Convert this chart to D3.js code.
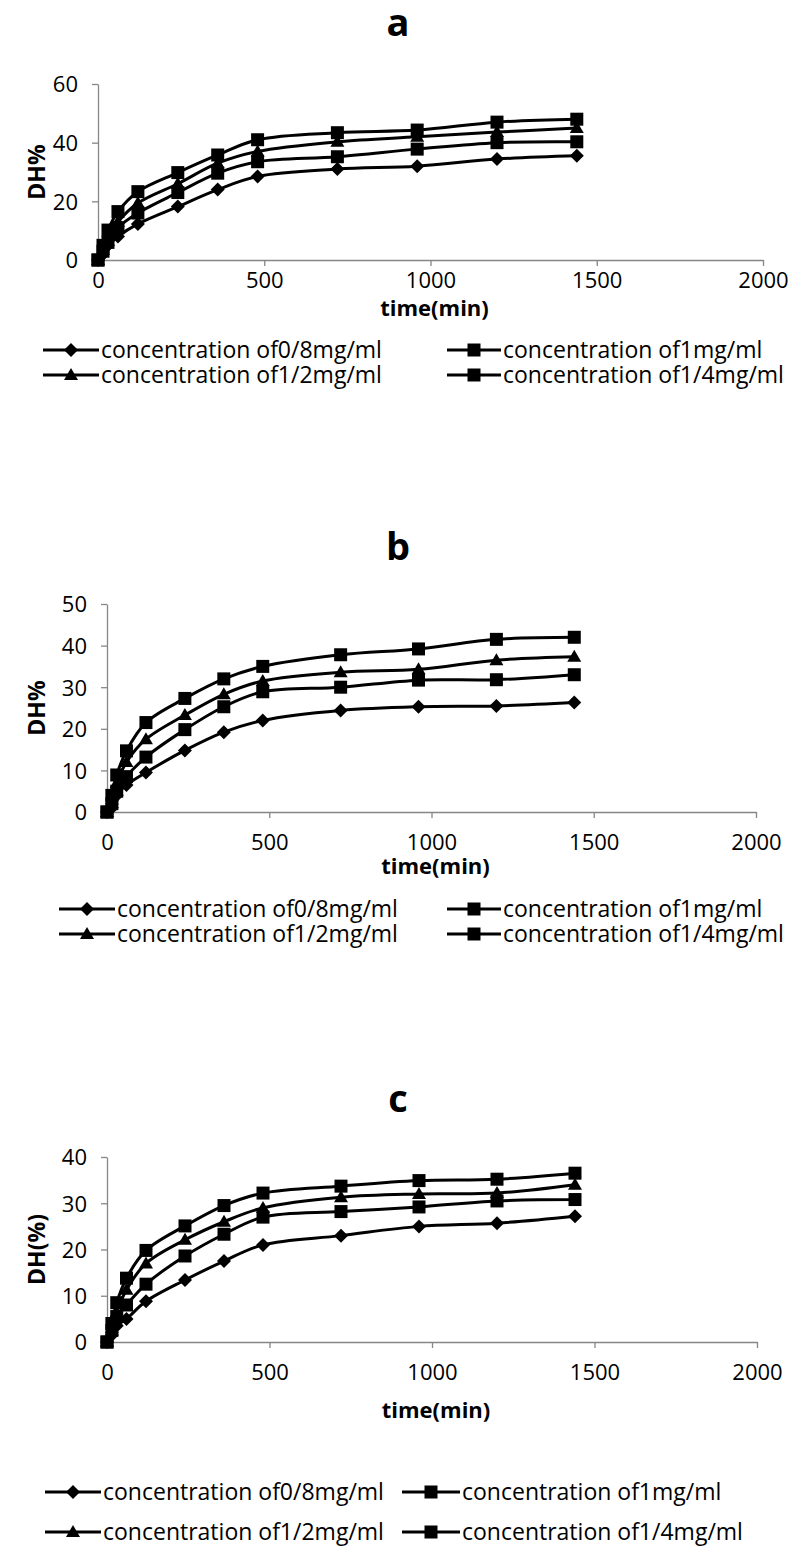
<!DOCTYPE html>
<html>
<head>
<meta charset="utf-8">
<script src="https://cdn.jsdelivr.net/npm/d3@7"></script>
<style>
  body { margin: 0; background: #fff; }
  text { font-family: "Open Sans", sans-serif; fill: #000; }
</style>
</head>
<body>
<div id="chart"></div>
<script>
// sampling times (min), same for all panels
const times = [0, 15, 30, 60, 120, 240, 360, 480, 720, 960, 1200, 1440];

const seriesNames = [
  "concentration of0/8mg/ml",
  "concentration of1mg/ml",
  "concentration of1/2mg/ml",
  "concentration of1/4mg/ml"
];
const seriesSymbols = ["diamond", "square", "triangle", "square"];

// panel a
const a08 = [0, 2, 5, 8, 12.3, 18.2, 24, 28.5, 31, 32, 34.4, 35.5];
const a1  = [0, 5, 10.2, 16.5, 23.3, 29.8, 35.8, 41, 43.4, 44.3, 47, 48];
const a12 = [0, 4, 8, 13, 19.4, 26, 33, 37, 40.3, 42, 43.6, 45];
const a14 = [0, 3, 6, 11, 16, 23, 29.6, 33.5, 35.2, 37.8, 40, 40.3];

// panel b
const b08 = [0, 1, 4, 6.5, 9.5, 14.8, 19.2, 22, 24.4, 25.3, 25.5, 26.3];
const b1  = [0, 4, 8.9, 14.7, 21.5, 27.3, 32, 35, 37.8, 39.2, 41.5, 42];
const b12 = [0, 3, 7, 12, 17.5, 23.3, 28.3, 31.5, 33.6, 34.3, 36.5, 37.3];
const b14 = [0, 2, 5, 8.5, 13.2, 19.8, 25.3, 28.9, 30, 31.7, 31.8, 33];

// panel c
const c08 = [0, 1.5, 3.5, 5, 8.8, 13.4, 17.5, 21, 23, 25, 25.7, 27.2];
const c1  = [0, 4, 8.5, 13.8, 19.8, 25.1, 29.5, 32.2, 33.7, 34.9, 35.2, 36.5];
const c12 = [0, 3, 6.5, 11.3, 17, 22.1, 26, 29, 31.3, 32, 32.2, 34];
const c14 = [0, 2.5, 5.5, 8, 12.5, 18.6, 23.3, 27, 28.2, 29.2, 30.5, 30.8];

const xTicks = [0, 500, 1000, 1500, 2000];

const width = 797;
const height = 1553;

const svg = d3.select("#chart")
  .append("svg")
  .attr("width", width)
  .attr("height", height);

const panels = [
  {
    title: "a", titleY: 36, yLabel: "DH%", yMax: 60, yStep: 20,
    x0: 98, x1: 763, yBottom: 260, yTop: 84,
    tickY: 288, xLabelY: 316,
    legendRows: [350, 375], legendCols: [[43, 101], [447, 503]],
    series: [a08, a1, a12, a14]
  },
  {
    title: "b", titleY: 560, yLabel: "DH%", yMax: 50, yStep: 10,
    x0: 107, x1: 756, yBottom: 812, yTop: 604,
    tickY: 850, xLabelY: 874,
    legendRows: [909, 934], legendCols: [[59, 117], [447, 503]],
    series: [b08, b1, b12, b14]
  },
  {
    title: "c", titleY: 1112, yLabel: "DH(%)", yMax: 40, yStep: 10,
    x0: 107, x1: 757, yBottom: 1342, yTop: 1157,
    tickY: 1380, xLabelY: 1418,
    legendRows: [1492, 1532], legendCols: [[45, 103], [402, 462]],
    series: [c08, c1, c12, c14]
  }
];

const axisColor = "#868686";

function symbolPath(kind) {
  if (kind === "diamond") return "M0,-7L7,0L0,7L-7,0Z";
  if (kind === "triangle") return "M0,-7L7,5L-7,5Z";
  return "M-6.5,-6.5H6.5V6.5H-6.5Z";
}

panels.forEach(p => {
  const x = d3.scaleLinear().domain([0, 2000]).range([p.x0, p.x1]);
  const y = d3.scaleLinear().domain([0, p.yMax]).range([p.yBottom, p.yTop]);
  const g = svg.append("g");

  // title
  g.append("text")
    .attr("x", 398).attr("y", p.titleY)
    .attr("text-anchor", "middle")
    .style("font-size", "38px").style("font-weight", "bold")
    .text(p.title);

  // x axis
  const xAxis = g.append("g")
    .attr("transform", `translate(0,${p.yBottom})`)
    .call(d3.axisBottom(x).tickValues(xTicks).tickSize(6).tickSizeOuter(0).tickFormat(d3.format("d")));
  xAxis.select(".domain").attr("stroke", axisColor).attr("stroke-width", 1.3);
  xAxis.selectAll(".tick line").attr("stroke", axisColor).attr("stroke-width", 1.3);
  xAxis.selectAll(".tick text")
    .attr("y", p.tickY - p.yBottom).attr("dy", 0)
    .style("font-size", "22px").style("font-family", "Open Sans").attr("fill", "#000");

  // y axis
  const yAxis = g.append("g")
    .attr("transform", `translate(${p.x0},0)`)
    .call(d3.axisLeft(y).ticks(p.yMax / p.yStep).tickSize(6).tickSizeOuter(0));
  yAxis.select(".domain").attr("stroke", axisColor).attr("stroke-width", 1.3);
  yAxis.selectAll(".tick line").attr("stroke", axisColor).attr("stroke-width", 1.3);
  yAxis.selectAll(".tick text")
    .attr("x", -20).attr("dy", "0.36em")
    .style("font-size", "22px").style("font-family", "Open Sans").attr("fill", "#000");

  // axis titles
  g.append("text")
    .attr("transform", `translate(45,${(p.yBottom + p.yTop) / 2}) rotate(-90)`)
    .attr("text-anchor", "middle")
    .style("font-size", "23px").style("font-weight", "bold")
    .text(p.yLabel);

  g.append("text")
    .attr("x", (p.x0 + p.x1) / 2 + 4).attr("y", p.xLabelY)
    .attr("text-anchor", "middle")
    .style("font-size", "22px").style("font-weight", "bold")
    .text("time(min)");

  // lines
  const line = d3.line()
    .x((d, i) => x(times[i]))
    .y(d => y(d))
    .curve(d3.curveCatmullRom.alpha(0.5));

  p.series.forEach((vals, si) => {
    g.append("path")
      .datum(vals)
      .attr("d", line)
      .attr("fill", "none")
      .attr("stroke", "#000")
      .attr("stroke-width", 3);

    g.selectAll(null)
      .data(vals)
      .enter()
      .append("path")
      .attr("transform", (d, i) => `translate(${x(times[i])},${y(d)})`)
      .attr("d", symbolPath(seriesSymbols[si]))
      .attr("fill", "#000");
  });

  // legend: two columns, two rows
  seriesNames.forEach((name, si) => {
    const row = Math.floor(si / 2);
    const col = si % 2;
    const lx = p.legendCols[col][0];
    const tx = p.legendCols[col][1];
    const ly = p.legendRows[row];
    g.append("line")
      .attr("x1", lx).attr("x2", tx - 2)
      .attr("y1", ly).attr("y2", ly)
      .attr("stroke", "#000").attr("stroke-width", 3);
    g.append("path")
      .attr("transform", `translate(${(lx + tx - 2) / 2},${ly})`)
      .attr("d", symbolPath(seriesSymbols[si]))
      .attr("fill", "#000");
    g.append("text")
      .attr("x", tx).attr("y", ly)
      .attr("dy", "0.35em")
      .style("font-size", "23px")
      .text(name);
  });
});
</script>
</body>
</html>
